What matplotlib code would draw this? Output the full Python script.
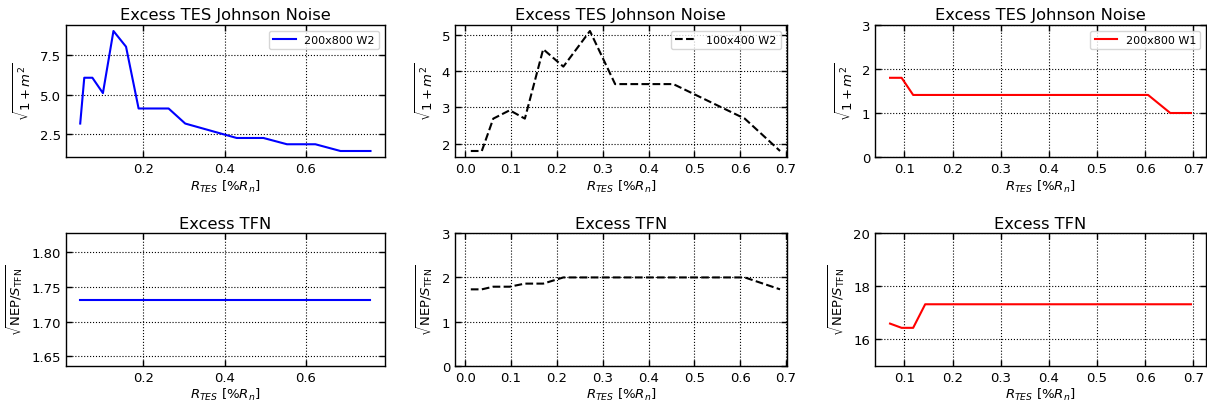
import matplotlib
matplotlib.use("Agg")
import matplotlib.pyplot as plt
from matplotlib.ticker import MultipleLocator

# --- 200x800 W2 device ---
r_w2_200 = [0.044, 0.054, 0.074, 0.100, 0.126, 0.157, 0.188, 0.262,
            0.303, 0.430, 0.496, 0.554, 0.624, 0.686, 0.760]
jn_w2_200 = [3.16, 6.08, 6.08, 5.10, 9.06, 8.06, 4.12, 4.12,
             3.16, 2.24, 2.24, 1.84, 1.84, 1.41, 1.41]
tfn_w2_200 = [1.732] * len(r_w2_200)

# --- 100x400 W2 device ---
r_w2_100 = [0.012, 0.036, 0.061, 0.097, 0.130, 0.170, 0.214, 0.272,
            0.327, 0.454, 0.610, 0.687]
jn_w2_100 = [1.80, 1.80, 2.69, 2.92, 2.69, 4.60, 4.12, 5.10,
             3.64, 3.64, 2.69, 1.80]
tfn_w2_100 = [1.73, 1.73, 1.79, 1.79, 1.86, 1.86, 2.00, 2.00,
              2.00, 2.00, 2.00, 1.73]

# --- 200x800 W1 device ---
r_w1_200 = [0.070, 0.094, 0.118, 0.143, 0.606, 0.652, 0.695]
jn_w1_200 = [1.80, 1.80, 1.41, 1.41, 1.41, 1.00, 1.00]
tfn_w1_200 = [16.59, 16.43, 16.43, 17.32, 17.32, 17.32, 17.32]

labels = ["200x800 W2", "100x400 W2", "200x800 W1"]
colors = ["blue", "black", "red"]
styles = ["-", "--", "-"]

xlabel = r"$R_{TES}$ [%$R_n$]"
ylab_jn = r"$\sqrt{1+m^2}$"
ylab_tfn = r"$\sqrt{\mathrm{NEP}/S_\mathrm{TFN}}$"

plt.rcParams.update({
    "xtick.direction": "in",
    "ytick.direction": "in",
    "xtick.top": True,
    "ytick.right": True,
    "xtick.labelsize": 9.5,
    "ytick.labelsize": 9.5,
    "axes.labelsize": 9.5,
    "axes.titlesize": 11.7,
})

W, H = 1207, 406
fig = plt.figure(figsize=(W / 100, H / 100), dpi=100)

cols = [(65.7, 385.0), (455.0, 786.7), (875.0, 1206.0)]
rows = [(26.0, 158.0), (234.3, 366.7)]
axes = [[None] * 3 for _ in range(2)]
for i, (t, b) in enumerate(rows):
    for j, (l, r) in enumerate(cols):
        axes[i][j] = fig.add_axes([l / W, 1 - b / H, (r - l) / W, (b - t) / H])

xs = [r_w2_200, r_w2_100, r_w1_200]
jns = [jn_w2_200, jn_w2_100, jn_w1_200]
tfns = [tfn_w2_200, tfn_w2_100, tfn_w1_200]

for j in range(3):
    ax = axes[0][j]
    ax.plot(xs[j], jns[j], color=colors[j], ls=styles[j], lw=1.5, label=labels[j])
    ax.set_title("Excess TES Johnson Noise", pad=4)
    ax.set_ylabel(ylab_jn)
    ax.legend(loc="upper right", fontsize=8)

    ax2 = axes[1][j]
    ax2.plot(xs[j], tfns[j], color=colors[j], ls=styles[j], lw=1.5)
    ax2.set_title("Excess TFN", pad=4)
    ax2.set_ylabel(ylab_tfn)

# first column: coarser tick spacing
for i in range(2):
    axes[i][0].xaxis.set_major_locator(MultipleLocator(0.2))
axes[0][0].yaxis.set_major_locator(MultipleLocator(2.5))

axes[0][2].set_ylim(0, 3)
axes[1][1].set_ylim(0, 3)
axes[1][2].set_ylim(15, 20)
axes[1][2].set_yticks([16, 18, 20])
for i in range(2):
    axes[i][1].set_xlim(-0.0225, 0.7015)

for row in axes:
    for ax in row:
        ax.set_xlabel(xlabel, labelpad=2)
        ax.grid(True, color="k", ls=":", lw=0.8)
        ax.tick_params(length=4, width=1)
        for s in ax.spines.values():
            s.set_linewidth(1.0)

fig.savefig("out.png", dpi=100)
